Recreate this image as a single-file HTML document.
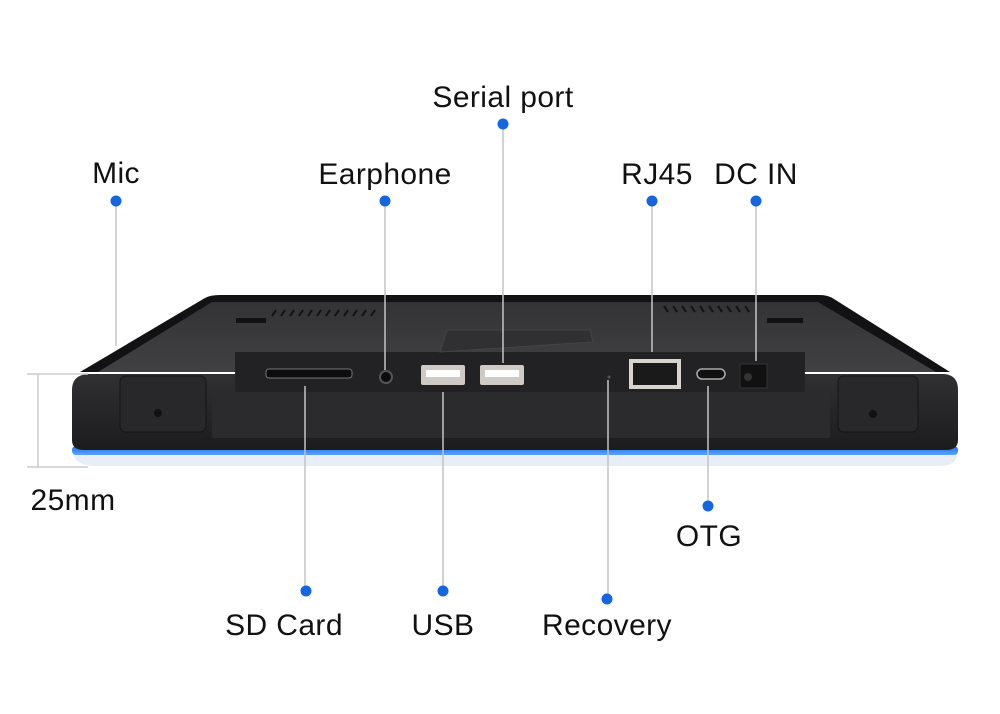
<!DOCTYPE html>
<html><head><meta charset="utf-8"><style>
html,body{margin:0;padding:0;background:#fff;}
svg{display:block}
text{font-family:"Liberation Sans",sans-serif;font-size:30px;letter-spacing:0.4px;fill:#111;}
</style></head><body>
<svg width="1000" height="714" viewBox="0 0 1000 714" xmlns="http://www.w3.org/2000/svg">
<defs>
<linearGradient id="top" x1="0" y1="0" x2="0" y2="1"><stop offset="0" stop-color="#333335"/><stop offset="1" stop-color="#414143"/></linearGradient>
<linearGradient id="body" x1="0" y1="0" x2="0" y2="1"><stop offset="0" stop-color="#303032"/><stop offset="1" stop-color="#1c1c1e"/></linearGradient>
<linearGradient id="blue" x1="0" y1="0" x2="0" y2="1"><stop offset="0" stop-color="#1f6fe6"/><stop offset="1" stop-color="#5aa2ff"/></linearGradient>
</defs>
<path d="M72 450 Q74 466 95 466 L940 466 Q958 466 958 450 Z" fill="#e8eef8"/>
<rect x="72" y="446" width="886" height="9" rx="4" fill="url(#blue)"/>
<path d="M80 372 L205 298 Q210 295 220 295 L820 295 Q828 295 834 299 L950 372 Z" fill="#121214"/>
<path d="M98 372 L212 302 L818 302 L936 372 Z" fill="url(#top)"/>
<path d="M72 390 Q72 375 88 374 L944 374 Q958 375 958 390 L958 440 Q958 450 946 450 L84 450 Q72 450 72 440 Z" fill="url(#body)"/>
<rect x="235" y="352" width="570" height="42" fill="#222224"/>
<rect x="212" y="392" width="618" height="46" fill="#2b2b2d"/>
<g stroke="#111" stroke-width="2">
<path d="M272 316 l4 -6 M281 316 l4 -6 M290 316 l4 -6 M299 316 l4 -6 M308 316 l4 -6 M317 316 l4 -6 M326 316 l4 -6 M335 316 l4 -6 M344 316 l4 -6 M353 316 l4 -6 M362 316 l4 -6 M371 316 l4 -6"/>
<path d="M664 306 l4 6 M673 306 l4 6 M682 306 l4 6 M691 306 l4 6 M700 306 l4 6 M709 306 l4 6 M718 306 l4 6 M727 306 l4 6 M736 306 l4 6 M745 306 l4 6"/>
</g>
<rect x="236" y="318" width="30" height="5" fill="#111"/>
<rect x="767" y="318" width="36" height="5" fill="#111"/>
<path d="M440 352 L447 330 L590 330 L593 342 Z" fill="#303032" stroke="#444" stroke-width="1"/>
<rect x="120" y="376" width="86" height="56" rx="6" fill="#28282a" stroke="#141414"/>
<rect x="838" y="376" width="80" height="56" rx="6" fill="#28282a" stroke="#141414"/>
<circle cx="158" cy="413" r="4" fill="#111"/><circle cx="873" cy="414" r="4" fill="#111"/>
<rect x="266" y="369" width="86" height="9" rx="3" fill="#0c0c0c" stroke="#777"/>
<circle cx="386" cy="377" r="6" fill="#0c0c0c" stroke="#555" stroke-width="2"/>
<rect x="421" y="365" width="44" height="20" rx="2" fill="#cfcbc4"/><rect x="426" y="370" width="34" height="7" fill="#fff"/>
<rect x="480" y="365" width="44" height="20" rx="2" fill="#cfcbc4"/><rect x="485" y="370" width="34" height="7" fill="#fff"/>
<circle cx="609" cy="377" r="1.5" fill="#555"/>
<rect x="629" y="359" width="52" height="30" fill="#d8d4cc"/><rect x="633" y="363" width="44" height="22" fill="#1a1a1a"/>
<rect x="697" y="369" width="28" height="10" rx="5" fill="#111" stroke="#aaa" stroke-width="1.5"/>
<rect x="740" y="364" width="27" height="24" fill="#111" stroke="#333"/><circle cx="748" cy="377" r="4" fill="#333"/>
<g stroke="#ccc" stroke-width="1.5" fill="none">
<path d="M27 374 H88 M27 467 H88 M38 374 V467"/>
</g>
<g stroke="#c4c4c4" stroke-width="1.5">
<path d="M116 201 V346 M385 201 V370 M503 124 V363 M652 201 V352 M756 201 V361 M305 386 V591 M443 392 V591 M608 380 V599 M708 386 V506"/>
</g>
<g fill="#1565e0">
<circle cx="116" cy="201" r="5.5"/><circle cx="385" cy="201" r="5.5"/><circle cx="503" cy="124" r="5.5"/>
<circle cx="652" cy="201" r="5.5"/><circle cx="756" cy="201" r="5.5"/><circle cx="306" cy="591" r="5.5"/>
<circle cx="443" cy="591" r="5.5"/><circle cx="607" cy="599" r="5.5"/><circle cx="708" cy="506" r="5.5"/>
</g>
<text x="116" y="183" text-anchor="middle">Mic</text>
<text x="385" y="184" text-anchor="middle">Earphone</text>
<text x="503" y="107" text-anchor="middle">Serial port</text>
<text x="657" y="184" text-anchor="middle">RJ45</text>
<text x="756" y="184" text-anchor="middle">DC IN</text>
<text x="73" y="510" text-anchor="middle">25mm</text>
<text x="709" y="546" text-anchor="middle">OTG</text>
<text x="284" y="635" text-anchor="middle">SD Card</text>
<text x="443" y="635" text-anchor="middle">USB</text>
<text x="607" y="635" text-anchor="middle">Recovery</text>
</svg>
</body></html>
